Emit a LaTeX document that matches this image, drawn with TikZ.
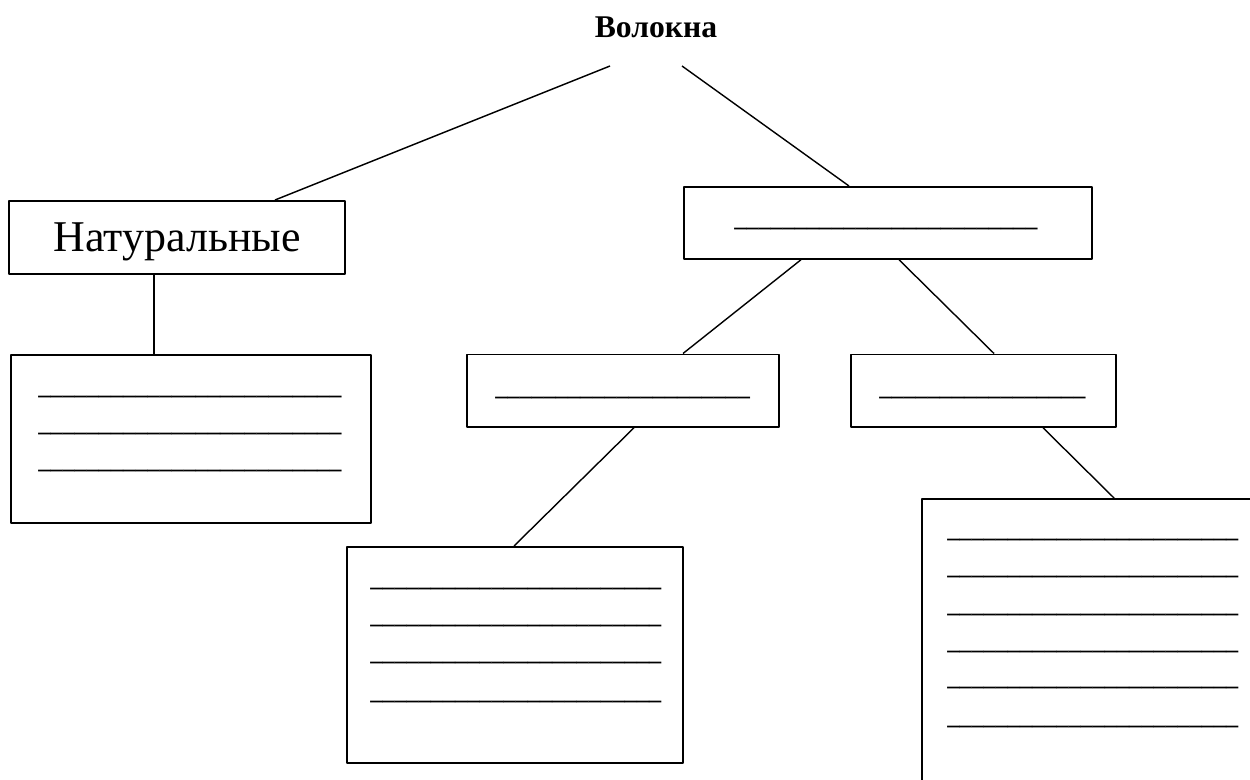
\documentclass[tikz,border=0pt]{standalone}
\usepackage{fontspec}
\setmainfont{Liberation Serif}
\usetikzlibrary{calc}
\newcommand\blank[1]{\foreach\k in {1,...,#1}{\_}}
\tikzset{
  box/.style={draw, line width=1pt, inner sep=0pt, anchor=north west},
  blank/.style={inner sep=0pt, anchor=base west, font=\fontsize{13.8}{17}\selectfont\bfseries},
  link/.style={line width=0.8pt}
}
\begin{document}
\begin{tikzpicture}[x=0.02cm, y=-0.02cm, line join=round]
	\useasboundingbox (0,0) rectangle (1250,780);
	\clip (0,0) rectangle (1250,780);
	% title
	\node[anchor=base, inner sep=0pt, font=\fontsize{18}{22}\selectfont\bfseries] (vol) at (656,37.7) {Волокна};
	\coordinate (wl) at (610,66);
	\coordinate (wr) at (682,66);
	% boxes
	\node[box, minimum width=6.73cm, minimum height=1.46cm, text depth=0pt, font=\fontsize{25}{29}\selectfont] (nat) at (8,200) {Натуральные};
	\node[box, minimum width=7.2cm, minimum height=3.36cm] (lb) at (10,354) {};
	\node[box, minimum width=8.16cm, minimum height=1.44cm] (syn) at (683,186) {};
	\node[box, minimum width=6.24cm, minimum height=1.45cm] (m1) at (466,353.5) {};
	\node[box, minimum width=5.3cm, minimum height=1.45cm] (m2) at (850,353.5) {};
	\node[box, minimum width=6.72cm, minimum height=4.32cm] (bm) at (346,546) {};
	\node[box, minimum width=6.8cm, minimum height=6cm] (br) at (921,498) {};
	% blanks
	\node[blank] (syn1) at (734,229.3-2.5) {\blank{25}};
	\node[blank] (m1a) at (495,398-2.5) {\blank{21}};
	\node[blank] (m2a) at (879,398-2.5) {\blank{17}};
	\foreach \y [count=\i] in {397,434,471}
		\node[blank] (lb\i) at (38,\y-2.5) {\blank{25}};
	\foreach \y [count=\i] in {589,626,663,702}
		\node[blank] (bm\i) at (370,\y-2.5) {\blank{24}};
	\foreach \y [count=\i] in {540,577,615,652,688,727}
		\node[blank] (br\i) at (947,\y-2.5) {\blank{24}};
	% connectors
	\draw[link] (wl) -- ($(nat.north west)+(267,0)$);
	\draw[link] (wr) -- ($(syn.north west)+(166,0)$);
	\draw[link] ($(nat.south west)+(146,0)$) coordinate (n1) -- (n1 |- lb.north);
	\draw[link] ($(syn.south west)+(118,0)$) -- ($(m1.north west)+(217,0)$);
	\draw[link] ($(syn.south west)+(216,0)$) -- ($(m2.north west)+(144,0)$);
	\draw[link] ($(m1.south west)+(168,0)$) -- ($(bm.north west)+(168,0)$);
	\draw[link] ($(m2.south west)+(193,0)$) -- ($(br.north west)+(193,0)$);
\end{tikzpicture}
\end{document}
